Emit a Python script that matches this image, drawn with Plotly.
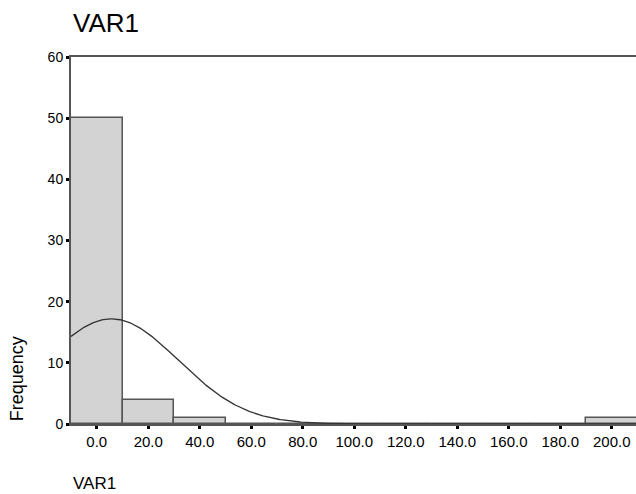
import numpy as np
import plotly.graph_objects as go

# Histogram bins (centers) and counts
bin_centers = [0, 20, 40, 60, 80, 100, 120, 140, 160, 180, 200]
counts = [50, 4, 1, 0, 0, 0, 0, 0, 0, 0, 1]
bin_width = 20
x_tick_vals = [0, 20, 40, 60, 80, 100, 120, 140, 160, 180, 200]
x_tick_text = ["0.0", "20.0", "40.0", "60.0", "80.0", "100.0", "120.0", "140.0", "160.0", "180.0", "200.0"]
y_tick_vals = [0, 10, 20, 30, 40, 50, 60]

# Fitted normal curve parameters (as shown in the reference)
curve_mean = 5.7
curve_sd = 26.0
curve_n = 56

FONT = "Liberation Sans"
AXIS_COLOR = "#555555"

fig = go.Figure()
fig.add_trace(go.Bar(
    x=bin_centers, y=counts, width=[bin_width] * len(bin_centers),
    marker=dict(color="#d3d3d3", line=dict(color="#555555", width=1.5)),
    showlegend=False, hoverinfo="skip",
))

xs = np.linspace(-10, 210, 441)
ys = curve_n * bin_width / (curve_sd * np.sqrt(2 * np.pi)) * np.exp(-(xs - curve_mean) ** 2 / (2 * curve_sd ** 2))
fig.add_trace(go.Scatter(x=xs, y=ys, mode="lines", line=dict(color="#333333", width=1.3),
                         showlegend=False, hoverinfo="skip"))

fig.update_layout(
    width=636, height=494,
    margin=dict(l=71, r=0, t=57, b=70, autoexpand=False),
    paper_bgcolor="white", plot_bgcolor="white",
    font=dict(family=FONT, color="black", size=14),
    bargap=0,
    xaxis=dict(
        range=[-10, 209.4], tickvals=x_tick_vals, ticktext=x_tick_text, automargin=False,
        showgrid=False, zeroline=False, showline=True, linecolor=AXIS_COLOR, linewidth=2,
        mirror=True, ticks="outside", ticklen=3, tickwidth=3, tickcolor="black",
        tickfont=dict(size=15, family=FONT),
    ),
    yaxis=dict(
        range=[0, 60], tickvals=y_tick_vals, automargin=False,
        showgrid=False, zeroline=False, showline=True, linecolor=AXIS_COLOR, linewidth=2,
        ticks="outside", ticklen=3, tickwidth=3, tickcolor="black",
        tickfont=dict(size=14, family=FONT),
    ),
    annotations=[
        dict(text="VAR1", xref="paper", yref="paper", x=0, y=1, xanchor="left", yanchor="middle",
             yshift=34, showarrow=False, font=dict(size=26, family=FONT)),
        dict(text="Frequency", xref="paper", yref="y", x=0, y=7.3, xanchor="center", yanchor="middle",
             xshift=-54, textangle=-90, showarrow=False, font=dict(size=18, family=FONT)),
        dict(text="VAR1", xref="paper", yref="paper", x=0, y=0, xanchor="left", yanchor="middle",
             yshift=-59, showarrow=False, font=dict(size=17, family=FONT)),
    ],
)

fig.write_html("out.html", config={"displayModeBar": False},
               post_script="document.body.style.margin='0';document.body.style.overflow='hidden';")
